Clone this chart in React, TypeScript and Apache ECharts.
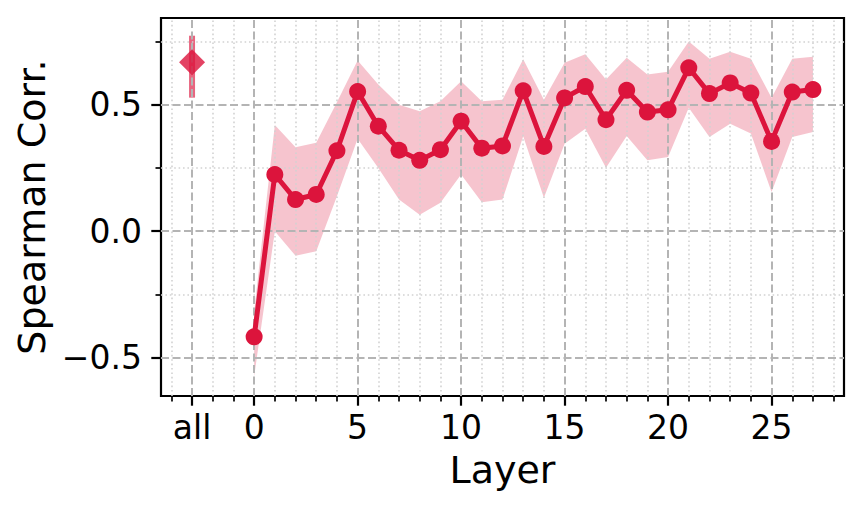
import React, { useEffect, useRef } from "react";
import * as echarts from "echarts";

// ---- data ----
const layers = [0, 1, 2, 3, 4, 5, 6, 7, 8, 9, 10, 11, 12, 13, 14, 15, 16, 17, 18, 19, 20, 21, 22, 23, 24, 25, 26, 27];
const meanCorr = [-0.418, 0.224, 0.125, 0.145, 0.318, 0.552, 0.415, 0.32, 0.28, 0.322, 0.435, 0.328, 0.337, 0.555, 0.335, 0.527, 0.572, 0.441, 0.557, 0.471, 0.48, 0.646, 0.544, 0.586, 0.546, 0.355, 0.55, 0.56];
const upperCorr = [-0.32, 0.42, 0.332, 0.35, 0.51, 0.675, 0.58, 0.5, 0.474, 0.514, 0.593, 0.514, 0.52, 0.68, 0.52, 0.666, 0.7, 0.6, 0.686, 0.62, 0.63, 0.75, 0.682, 0.71, 0.682, 0.528, 0.682, 0.69];
const lowerCorr = [-0.575, 0.0, -0.097, -0.08, 0.138, 0.365, 0.25, 0.125, 0.065, 0.112, 0.224, 0.114, 0.125, 0.375, 0.132, 0.346, 0.405, 0.251, 0.376, 0.28, 0.293, 0.488, 0.372, 0.425, 0.386, 0.155, 0.372, 0.392];

const allX = -3;
const allMean = 0.668;
const allLower = 0.528;
const allUpper = 0.773;

const xMajorTicks = [-3, 0, 5, 10, 15, 20, 25];
const xMajorLabels = ["all", "0", "5", "10", "15", "20", "25"];
const xMinorTicks = [-4, -2, -1, 1, 2, 3, 4, 6, 7, 8, 9, 11, 12, 13, 14, 16, 17, 18, 19, 21, 22, 23, 24, 26, 27, 28];
const yMajorTicks = [-0.5, 0, 0.5];
const yMajorLabels = ["\u22120.5", "0.0", "0.5"];
const yMinorTicks = [-0.25, 0.25, 0.75];

const X_MIN = -4.5;
const X_MAX = 28.5;
const Y_MIN = -0.652;
const Y_MAX = 0.843;

const CRIMSON = "#DC143C";
const FONT = "DejaVu Sans";

export default function App() {
  const ref = useRef<HTMLDivElement>(null);

  useEffect(() => {
    if (!ref.current) return;
    const chart = echarts.init(ref.current, undefined, { renderer: "svg" });

    const majorDash = { color: "#b4b4b4", width: 2, type: [8, 3.5] as any };
    const minorDot = { color: "#d2d2d2", width: 1.6, type: [1.6, 2.8] as any };

    const gridLines: any[] = [];
    xMinorTicks.forEach((v) => gridLines.push({ xAxis: v, lineStyle: minorDot }));
    yMinorTicks.forEach((v) => gridLines.push({ yAxis: v, lineStyle: minorDot }));
    xMajorTicks.forEach((v) => gridLines.push({ xAxis: v, lineStyle: majorDash }));
    yMajorTicks.forEach((v) => gridLines.push({ yAxis: v, lineStyle: majorDash }));

    const axisCommon = {
      type: "value" as const,
      axisLine: { show: false, onZero: false },
      splitLine: { show: false },
    };

    chart.setOption({
      animation: false,
      backgroundColor: "#ffffff",
      grid: {
        left: 161,
        top: 18,
        width: 683,
        height: 378,
        show: true,
        borderColor: "#000",
        borderWidth: 2.2,
        backgroundColor: "transparent",
      },
      xAxis: [
        {
          ...axisCommon,
          min: X_MIN,
          max: X_MAX,
          position: "bottom",
          name: "Layer",
          nameLocation: "middle",
          nameGap: 55,
          nameTextStyle: { fontFamily: FONT, fontSize: 38, color: "#000", lineHeight: 38 },
          axisTick: { show: true, length: 9.7, customValues: xMajorTicks, lineStyle: { color: "#000", width: 2.2 } },
          axisLabel: {
            show: true,
            customValues: xMajorTicks,
            margin: 15,
            fontFamily: FONT,
            fontSize: 33,
            lineHeight: 33,
            color: "#000",
            formatter: (v: number) => {
              const i = xMajorTicks.indexOf(v);
              return i >= 0 ? xMajorLabels[i] : "";
            },
          },
        },
        {
          ...axisCommon,
          min: X_MIN,
          max: X_MAX,
          position: "bottom",
          axisTick: { show: true, length: 5.5, customValues: xMinorTicks, lineStyle: { color: "#000", width: 1.7 } },
          axisLabel: { show: false },
        },
      ],
      yAxis: [
        {
          ...axisCommon,
          min: Y_MIN,
          max: Y_MAX,
          position: "left",
          name: "Spearman Corr.",
          nameLocation: "middle",
          nameGap: 109,
          nameTextStyle: { fontFamily: FONT, fontSize: 38, color: "#000", lineHeight: 38 },
          axisTick: { show: true, length: 9.7, customValues: yMajorTicks, lineStyle: { color: "#000", width: 2.2 } },
          axisLabel: {
            show: true,
            customValues: yMajorTicks,
            margin: 19,
            fontFamily: FONT,
            fontSize: 33,
            lineHeight: 33,
            color: "#000",
            formatter: (v: number) => {
              let idx = -1;
              yMajorTicks.forEach((t, i) => {
                if (Math.abs(t - v) < 1e-9) idx = i;
              });
              return idx >= 0 ? yMajorLabels[idx] : "";
            },
          },
        },
        {
          ...axisCommon,
          min: Y_MIN,
          max: Y_MAX,
          position: "left",
          offset: 0,
          axisTick: { show: true, length: 5.5, customValues: yMinorTicks, lineStyle: { color: "#000", width: 1.7 } },
          axisLabel: { show: false },
        },
      ],
      series: [
        {
          name: "band",
          type: "custom",
          coordinateSystem: "cartesian2d",
          data: [[layers[0], meanCorr[0]]],
          silent: true,
          z: 1,
          renderItem: (_params: any, api: any) => {
            const pts: number[][] = [];
            layers.forEach((x, i) => pts.push(api.coord([x, upperCorr[i]])));
            for (let i = layers.length - 1; i >= 0; i--) {
              pts.push(api.coord([layers[i], lowerCorr[i]]));
            }
            return {
              type: "polygon",
              shape: { points: pts },
              style: { fill: "rgba(220,20,60,0.25)", stroke: "none" },
            };
          },
        },
        {
          name: "grid",
          type: "line",
          data: [[allX, allMean]],
          symbol: "none",
          lineStyle: { opacity: 0 },
          silent: true,
          z: 2,
          markLine: {
            silent: true,
            symbol: ["none", "none"],
            label: { show: false },
            animation: false,
            data: gridLines,
          },
        },
        {
          name: "allErr",
          type: "line",
          data: [
            [allX, allLower],
            [allX, allUpper],
          ],
          symbol: "none",
          lineStyle: { color: "rgba(220,20,60,0.65)", width: 6, cap: "butt" },
          silent: true,
          z: 4,
        },
        {
          name: "all",
          type: "scatter",
          data: [[allX, allMean]],
          symbol: "diamond",
          symbolSize: 26,
          itemStyle: { color: CRIMSON },
          silent: true,
          z: 5,
        },
        {
          name: "layers",
          type: "line",
          data: layers.map((x, i) => [x, meanCorr[i]]),
          symbol: "circle",
          symbolSize: 17,
          showSymbol: true,
          lineStyle: { color: CRIMSON, width: 5 },
          itemStyle: { color: CRIMSON, borderWidth: 0 },
          silent: true,
          z: 5,
        },
      ],
    });

    return () => chart.dispose();
  }, []);

  return (
    <div
      ref={ref}
      style={{ position: "fixed", left: 0, top: 0, width: 863, height: 510 }}
    />
  );
}
